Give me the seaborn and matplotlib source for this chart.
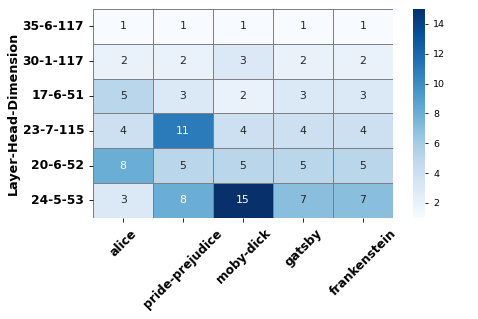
import matplotlib.pyplot as plt
import seaborn as sns
import pandas as pd

rows = ["35-6-117", "30-1-117", "17-6-51", "23-7-115", "20-6-52", "24-5-53"]
books = ["alice", "pride-prejudice", "moby-dick", "gatsby", "frankenstein"]
counts = [
    [1, 1, 1, 1, 1],
    [2, 2, 3, 2, 2],
    [5, 3, 2, 3, 3],
    [4, 11, 4, 4, 4],
    [8, 5, 5, 5, 5],
    [3, 8, 15, 7, 7],
]

df = pd.DataFrame(counts, index=rows, columns=books)

fig = plt.figure(figsize=(4.78, 3.19), dpi=100)
ax = fig.add_axes([0.195, 0.317, 0.627, 0.655])
cax = fig.add_axes([0.864, 0.317, 0.025, 0.655])
sns.heatmap(df, ax=ax, cbar_ax=cax, cmap="Blues", annot=True, fmt="d",
            linewidths=0.5, linecolor="gray", vmin=1, vmax=15,
            annot_kws={"fontsize": 7.8})
ax.set_ylabel("Layer-Head-Dimension", fontsize=9.2, fontweight="bold", labelpad=2)
ax.set_xlabel("")
ax.tick_params(length=3, width=0.6)
ax.set_yticklabels(ax.get_yticklabels(), rotation=0, fontsize=8.8, fontweight="bold")
ax.set_xticklabels(ax.get_xticklabels(), rotation=45, fontsize=8.8, fontweight="bold")
cax.set_yticks([2, 4, 6, 8, 10, 12, 14])
cax.tick_params(labelsize=6.8, length=2.5, width=0.6)
fig.savefig("out.png", dpi=100)
